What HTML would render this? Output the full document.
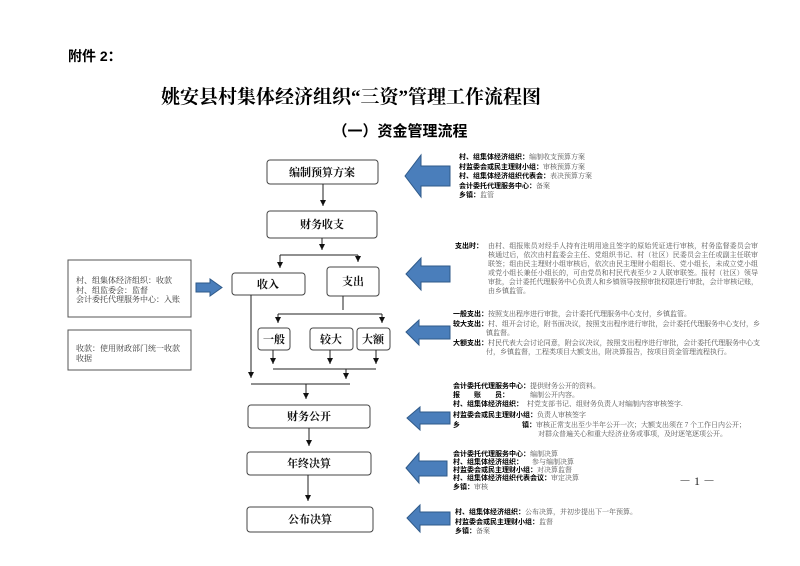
<!DOCTYPE html>
<html><head><meta charset="utf-8"><style>
html,body{margin:0;padding:0;background:#fff;}
svg{display:block;}
.b{font-family:"Liberation Serif","Noto Serif CJK SC",serif;}
.s{font-family:"Liberation Sans","Noto Sans CJK SC",sans-serif;}
.t{font-size:7px;fill:#555;font-family:"Liberation Serif","Noto Serif CJK SC",serif;}
.t tspan.k{fill:#000;font-weight:bold;font-family:"Liberation Sans","Noto Sans CJK SC",sans-serif;}
.box{fill:#fff;stroke:#444;stroke-width:1;}
.lbl{font-family:"Liberation Serif","Noto Serif CJK SC",serif;font-size:11px;font-weight:bold;text-anchor:middle;fill:#111;}
.ln{stroke:#222;stroke-width:1;fill:none;}
.ar{fill:#4a7ebb;stroke:#2f5a8a;stroke-width:1;}
</style></head><body>
<svg width="800" height="566" viewBox="0 0 800 566" xmlns="http://www.w3.org/2000/svg">
<defs>
<marker id="d" viewBox="0 0 6 6" markerWidth="6" markerHeight="6" refX="3" refY="6" orient="0"><path d="M0,0 L6,0 L3,6 z" fill="#111"/></marker></defs>

<text x="68" y="61" class="s" font-size="14" font-weight="bold">附件 2：</text>
<text x="351" y="103" class="b" font-size="19" font-weight="bold" text-anchor="middle">姚安县村集体经济组织“三资”管理工作流程图</text>
<text x="400" y="136" class="s" font-size="15" font-weight="bold" text-anchor="middle">（一）资金管理流程</text>

<rect class="box" x="267" y="160" width="111" height="24" rx="3"/><text class="lbl" x="322" y="176">编制预算方案</text>
<rect class="box" x="267" y="211" width="110" height="27" rx="3"/><text class="lbl" x="322" y="228">财务收支</text>
<rect class="box" x="232" y="273" width="73" height="22" rx="3"/><text class="lbl" x="268" y="288">收入</text>
<rect class="box" x="327" y="267" width="52" height="29" rx="3"/><text class="lbl" x="353" y="285">支出</text>
<rect class="box" x="258" y="328" width="32" height="22" rx="3"/><text class="lbl" x="274" y="343">一般</text>
<rect class="box" x="310" y="328" width="43" height="22" rx="3"/><text class="lbl" x="331" y="343">较大</text>
<rect class="box" x="357" y="328" width="33" height="22" rx="3"/><text class="lbl" x="373" y="343">大额</text>
<rect class="box" x="248" y="405" width="122" height="23" rx="3"/><text class="lbl" x="309" y="420" font-size="10">财务公开</text>
<rect class="box" x="247" y="452" width="124" height="23" rx="3"/><text class="lbl" x="309" y="467" font-size="10">年终决算</text>
<rect class="box" x="247" y="507" width="126" height="25" rx="3"/><text class="lbl" x="310" y="523" font-size="10">公布决算</text>

<g class="ln" marker-end="url(#d)">
<line x1="323" y1="184" x2="323" y2="206"/>
<line x1="322" y1="238" x2="322" y2="250"/>
<line x1="280" y1="255" x2="280" y2="268"/>
<line x1="358" y1="255" x2="358" y2="262"/>
<line x1="278" y1="314" x2="278" y2="323"/>
<line x1="382" y1="314" x2="382" y2="323"/>
<line x1="273" y1="350" x2="273" y2="364"/>
<line x1="330" y1="350" x2="330" y2="364"/>
<line x1="376" y1="350" x2="376" y2="364"/>
<line x1="251" y1="295" x2="251" y2="378"/>
<line x1="346" y1="369" x2="346" y2="379"/>
<line x1="306" y1="384" x2="306" y2="399"/>
<line x1="309" y1="428" x2="309" y2="446"/>
<line x1="308" y1="475" x2="308" y2="501"/>
</g>
<g class="ln">
<line x1="280" y1="255" x2="358" y2="255"/>
<line x1="343" y1="296" x2="343" y2="310"/>
<line x1="278" y1="314" x2="382" y2="314"/>
<line x1="273" y1="369" x2="376" y2="369"/>
<line x1="251" y1="384" x2="350" y2="384"/>
</g>

<rect x="68" y="260" width="123" height="57" fill="#fff" stroke="#555"/>
<text class="t" x="76" y="283" style="font-size:8px;fill:#333">村、组集体经济组织：收款</text>
<text class="t" x="76" y="293" style="font-size:8px;fill:#333">村、组监委会：监督</text>
<text class="t" x="76" y="302" style="font-size:8px;fill:#333">会计委托代理服务中心：入账</text>
<rect x="68" y="330" width="123" height="40" fill="#fff" stroke="#555"/>
<text class="t" x="76" y="351" style="font-size:8px;fill:#333">收款：使用财政部门统一收款</text>
<text class="t" x="76" y="361" style="font-size:8px;fill:#333">收据</text>
<path class="ar" d="M196,283 L210,283 L210,279 L222,287.5 L210,296 L210,292 L196,292 z"/>

<path class="ar" d="M405,176 L421,155 L421,166 L450,166 L450,186 L421,186 L421,197 z"/>
<path class="ar" d="M406,274 L421,258 L421,266 L450,266 L450,282 L421,282 L421,290 z"/>
<path class="ar" d="M406,332 L419,320 L419,326 L450,326 L450,339 L419,339 L419,345 z"/>
<path class="ar" d="M407,418 L420,407 L420,412 L450,412 L450,424 L420,424 L420,430 z"/>
<path class="ar" d="M406,468 L419,453 L419,461 L447,461 L447,476 L419,476 L419,483 z"/>
<path class="ar" d="M407,518 L420,505 L420,512 L450,512 L450,525 L420,525 L420,532 z"/>

<text class="t"><tspan class="k" x="459" y="159">村、组集体经济组织：</tspan><tspan>编制收支预算方案</tspan>
<tspan class="k" x="459" y="169">村监委会或民主理财小组：</tspan><tspan>审核预算方案</tspan>
<tspan class="k" x="459" y="178">村、组集体经济组织代表会：</tspan><tspan>表决预算方案</tspan>
<tspan class="k" x="459" y="188">会计委托代理服务中心：</tspan><tspan>备案</tspan>
<tspan class="k" x="459" y="197">乡镇：</tspan><tspan>监管</tspan></text>

<text class="t"><tspan class="k" x="455" y="248">支出时：</tspan>
<tspan x="488" y="248" textLength="270">由村、组报账员对经手人持有注明用途且签字的原始凭证进行审核，村务监督委员会审</tspan>
<tspan x="488" y="257" textLength="270">核通过后，依次由村监委会主任、党组织书记、村（社区）民委员会主任或副主任联审</tspan>
<tspan x="488" y="266" textLength="270">联签；组由民主理财小组审核后，依次由民主理财小组组长、党小组长，未成立党小组</tspan>
<tspan x="488" y="275" textLength="270">或党小组长兼任小组长的，可由党员和村民代表至少 2 人联审联签。报村（社区）领导</tspan>
<tspan x="488" y="284" textLength="270">审批，会计委托代理服务中心负责人和乡镇领导按照审批权限进行审批，会计审核记账，</tspan>
<tspan x="488" y="293">由乡镇监管。</tspan></text>

<text class="t"><tspan class="k" x="453" y="316">一般支出：</tspan><tspan>按照支出程序进行审批，会计委托代理服务中心支付，乡镇监管。</tspan>
<tspan class="k" x="453" y="326">较大支出：</tspan><tspan textLength="272">村、组开会讨论，附书面决议，按照支出程序进行审批，会计委托代理服务中心支付，乡</tspan>
<tspan x="486" y="335">镇监督。</tspan>
<tspan class="k" x="453" y="345">大额支出：</tspan><tspan textLength="272">村民代表大会讨论同意，附会议决议，按照支出程序进行审批，会计委托代理服务中心支</tspan>
<tspan x="486" y="354">付，乡镇监督，工程类项目大额支出，附决算报告，按项目资金管理流程执行。</tspan></text>

<text class="t"><tspan class="k" x="453" y="388">会计委托代理服务中心：</tspan><tspan>提供财务公开的资料。</tspan>
<tspan class="k" x="453" y="397">报　　账　　员：</tspan><tspan x="530">编制公开内容。</tspan>
<tspan class="k" x="453" y="406">村、组集体经济组织：</tspan><tspan x="527">村党支部书记、组财务负责人对编制内容审核签字.</tspan>
<tspan class="k" x="453" y="417">村监委会或民主理财小组：</tspan><tspan>负责人审核签字</tspan>
<tspan class="k" x="453" y="427">乡</tspan><tspan class="k" x="522">镇：</tspan><tspan>审核正常支出至少半年公开一次；大额支出须在 7 个工作日内公开；</tspan>
<tspan x="538" y="436">对群众普遍关心和重大经济业务或事项，及时逐笔逐项公开。</tspan></text>

<text class="t"><tspan class="k" x="453" y="456">会计委托代理服务中心：</tspan><tspan>编制决算</tspan>
<tspan class="k" x="453" y="464">村、组集体经济组织：</tspan><tspan x="532">参与编制决算</tspan>
<tspan class="k" x="453" y="472">村监委会或民主理财小组：</tspan><tspan>对决算监督</tspan>
<tspan class="k" x="453" y="480">村、组集体经济组织代表会议：</tspan><tspan>审定决算</tspan>
<tspan class="k" x="453" y="489">乡镇：</tspan><tspan>审核</tspan></text>

<text class="t"><tspan class="k" x="455" y="514">村、组集体经济组织：</tspan><tspan>公布决算，并初步提出下一年预算。</tspan>
<tspan class="k" x="455" y="524">村监委会或民主理财小组：</tspan><tspan>监督</tspan>
<tspan class="k" x="455" y="533">乡镇：</tspan><tspan>备案</tspan></text>

<text x="697" y="485" class="b" font-size="12" text-anchor="middle" fill="#222">－ 1 －</text>
</svg>
</body></html>
